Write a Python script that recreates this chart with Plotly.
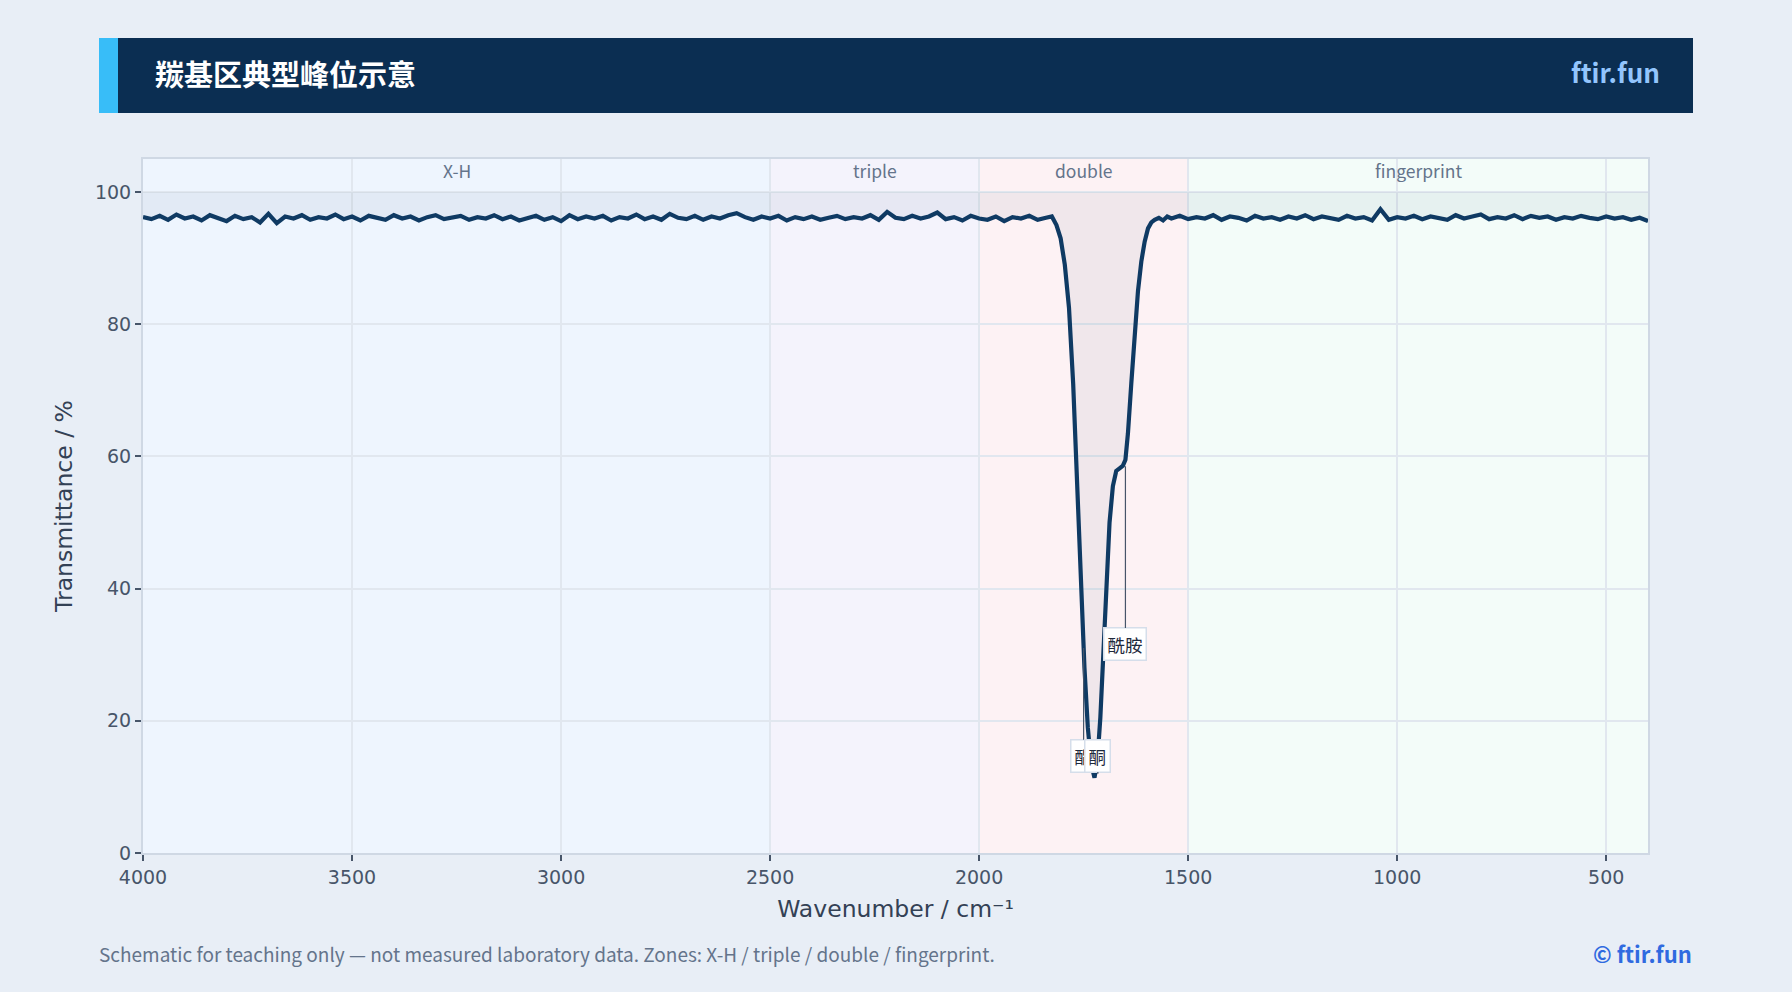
import plotly.graph_objects as go

# ---------------- data ----------------
wavenumber = [
    4000, 3980, 3960, 3940, 3920, 3900, 3880, 3860, 3840, 3820,
    3800, 3780, 3760, 3740, 3720, 3700, 3680, 3660, 3640, 3620,
    3600, 3580, 3560, 3540, 3520, 3500, 3480, 3460, 3440, 3420,
    3400, 3380, 3360, 3340, 3320, 3300, 3280, 3260, 3240, 3220,
    3200, 3180, 3160, 3140, 3120, 3100, 3080, 3060, 3040, 3020,
    3000, 2980, 2960, 2940, 2920, 2900, 2880, 2860, 2840, 2820,
    2800, 2780, 2760, 2740, 2720, 2700, 2680, 2660, 2640, 2620,
    2600, 2580, 2560, 2540, 2520, 2500, 2480, 2460, 2440, 2420,
    2400, 2380, 2360, 2340, 2320, 2300, 2280, 2260, 2240, 2220,
    2200, 2180, 2160, 2140, 2120, 2100, 2080, 2060, 2040, 2020,
    2000, 1980, 1960, 1940, 1920, 1900, 1880, 1860, 1840, 1826,
    1815, 1805, 1795, 1785, 1775, 1765, 1755, 1748, 1740, 1732,
    1724, 1717, 1710, 1703, 1695, 1688, 1680, 1672, 1664, 1656,
    1650, 1644, 1636, 1628, 1620, 1612, 1604, 1596, 1588, 1580,
    1570, 1560, 1550, 1540, 1520, 1500, 1480, 1460, 1440, 1420,
    1400, 1380, 1360, 1340, 1320, 1300, 1280, 1260, 1240, 1220,
    1200, 1180, 1160, 1140, 1120, 1100, 1080, 1060, 1040, 1020,
    1000, 980, 960, 940, 920, 900, 880, 860, 840, 820,
    800, 780, 760, 740, 720, 700, 680, 660, 640, 620,
    600, 580, 560, 540, 520, 500, 480, 460, 440, 420,
    400,
]
transmittance = [
    96.2, 95.9, 96.4, 95.8, 96.6, 96.0, 96.3, 95.7, 96.5, 96.1,
    95.6, 96.4, 95.9, 96.2, 95.4, 96.7, 95.3, 96.3, 96.0, 96.5,
    95.8, 96.2, 96.0, 96.6, 95.9, 96.3, 95.7, 96.4, 96.1, 95.8,
    96.5, 96.0, 96.3, 95.7, 96.2, 96.5, 95.9, 96.1, 96.4, 95.8,
    96.2, 96.0, 96.5, 95.9, 96.3, 95.7, 96.1, 96.4, 95.8, 96.2,
    95.6, 96.5, 95.9, 96.3, 96.0, 96.4, 95.7, 96.2, 96.0, 96.6,
    95.9, 96.3, 95.8, 96.7, 96.1, 95.9, 96.4, 95.8, 96.3, 96.0,
    96.5, 96.8, 96.2, 95.8, 96.3, 96.0, 96.4, 95.7, 96.2, 95.9,
    96.3, 95.8, 96.1, 96.4, 95.9, 96.2, 96.0, 96.5, 95.8, 97.0,
    96.1, 95.9, 96.4, 96.0, 96.3, 96.9, 95.9, 96.2, 95.7, 96.4,
    96.0, 95.8, 96.3, 95.6, 96.2, 96.0, 96.4, 95.8, 96.1, 96.3,
    95.0, 93.0, 89.0, 82.5, 71.0, 55.0, 38.0, 28.0, 19.0, 13.5,
    11.4, 14.0, 20.5, 31.0, 42.0, 50.0, 55.5, 57.8, 58.2, 58.6,
    59.5, 63.5, 71.0, 79.0, 85.0, 89.5, 92.5, 94.5, 95.4, 95.8,
    96.1, 95.7, 96.3, 96.0, 96.4, 95.9, 96.2, 96.0, 96.5, 95.8,
    96.3, 96.1, 95.7, 96.4, 96.0, 96.2, 95.8, 96.3, 96.0, 96.5,
    95.9, 96.3, 96.1, 95.8, 96.4, 96.0, 96.2, 95.7, 97.4, 95.8,
    96.2, 96.0, 96.4, 95.9, 96.3, 96.1, 95.8, 96.5, 96.0, 96.3,
    96.6, 95.9, 96.2, 96.0, 96.5, 95.9, 96.4, 96.1, 96.3, 95.8,
    96.2, 96.0, 96.4, 96.1, 95.9, 96.3, 96.0, 96.2, 95.8, 96.1,
    95.6,
]

zone_names = ["X-H", "triple", "double", "fingerprint"]
zone_start = [4000, 2500, 2000, 1500]
zone_end = [2500, 2000, 1500, 400]
zone_colors = ["#eef5fe", "#f4f3fc", "#fdf2f4", "#f3fcf9"]

peak_labels = ["酯", "酮", "酰胺"]
peak_wn = [1750, 1716, 1650]
peak_T = [31.0, 12.0, 58.5]
peak_offset_px = [108, -18, 178]

x_ticks = [4000, 3500, 3000, 2500, 2000, 1500, 1000, 500]
y_ticks = [0, 20, 40, 60, 80, 100]

title_text = "羰基区典型峰位示意"
brand_text = "ftir.fun"
footer_text = "Schematic for teaching only — not measured laboratory data. Zones: X-H / triple / double / fingerprint."
copyright_text = "© ftir.fun"

# ---------------- layout helpers ----------------
W, H = 1792, 992
ML, MR, MT, MB = 143, 144, 159, 139
PW, PH = W - ML - MR, H - MT - MB


def px2x(px):
    return (px - ML) / PW


def py2y(py):
    return (H - MB - py) / PH


CJK = "Noto Sans CJK SC"
TICKFONT = "DejaVu Sans"

fig = go.Figure()

# reference line at 100 for fill
fig.add_trace(go.Scatter(
    x=wavenumber, y=[100] * len(wavenumber), mode="lines",
    line=dict(width=0, color="rgba(0,0,0,0)"), hoverinfo="skip", showlegend=False,
))
fig.add_trace(go.Scatter(
    x=wavenumber, y=transmittance, mode="lines",
    line=dict(color="#0f3a63", width=4.2),
    fill="tonexty", fillcolor="rgba(30,60,100,0.06)",
    showlegend=False,
))

shapes = []
for xs, xe, c in zip(zone_start, zone_end, zone_colors):
    shapes.append(dict(type="rect", xref="x", yref="paper", x0=xs, x1=xe, y0=0, y1=1,
                       fillcolor=c, line=dict(width=0), layer="below"))

# header banner
shapes.append(dict(type="rect", xref="paper", yref="paper",
                   x0=px2x(99), x1=px2x(1693), y0=py2y(113), y1=py2y(38),
                   fillcolor="#0b2e52", line=dict(width=0), layer="above"))
shapes.append(dict(type="rect", xref="paper", yref="paper",
                   x0=px2x(99), x1=px2x(118), y0=py2y(113), y1=py2y(38),
                   fillcolor="#38bdf8", line=dict(width=0), layer="above"))

annotations = []
for name, xs, xe in zip(zone_names, zone_start, zone_end):
    annotations.append(dict(x=(xs + xe) / 2, y=py2y(171), xref="x", yref="paper",
                            text=name, showarrow=False, yanchor="middle",
                            font=dict(family=CJK, size=17.5, color="#64748b")))

for lab, wn, t, off in zip(peak_labels, peak_wn, peak_T, peak_offset_px):
    annotations.append(dict(x=wn, y=t, xref="x", yref="y", text=lab,
                            showarrow=True, arrowhead=0, arrowwidth=1.2, arrowcolor="#475569",
                            ax=0, ay=off, bgcolor="white", bordercolor="#d5deea",
                            borderwidth=1.5, borderpad=3,
                            font=dict(family=CJK, size=17.5, color="#1e293b")))

annotations.append(dict(x=px2x(153), y=py2y(73), xref="paper", yref="paper",
                        text="<b>" + title_text + "</b>", showarrow=False,
                        xanchor="left", yanchor="middle",
                        font=dict(family=CJK, size=29, color="white")))
annotations.append(dict(x=px2x(1662), y=py2y(72), xref="paper", yref="paper",
                        text="<b>" + brand_text + "</b>", showarrow=False,
                        xanchor="right", yanchor="middle",
                        font=dict(family=CJK, size=26, color="#93c5fd")))
annotations.append(dict(x=px2x(97), y=py2y(953), xref="paper", yref="paper",
                        text=footer_text, showarrow=False,
                        xanchor="left", yanchor="middle",
                        font=dict(family=CJK, size=19, color="#64748b")))
annotations.append(dict(x=px2x(1694), y=py2y(953), xref="paper", yref="paper",
                        text="<b>" + copyright_text + "</b>", showarrow=False,
                        xanchor="right", yanchor="middle",
                        font=dict(family=CJK, size=22, color="#2f6ae0")))

fig.update_layout(
    width=W, height=H,
    margin=dict(l=ML, r=MR, t=MT, b=MB),
    paper_bgcolor="#e8eef6",
    plot_bgcolor="#eef5fe",
    shapes=shapes,
    annotations=annotations,
    showlegend=False,
    xaxis=dict(
        range=[4000, 400], tickvals=x_ticks,
        showgrid=True, gridcolor="#e1e7ef", gridwidth=1.5,
        showline=True, linecolor="#cfd8e4", linewidth=2, mirror=True,
        ticks="outside", ticklen=6, tickcolor="#475569", tickwidth=1.5,
        tickfont=dict(family=TICKFONT, size=19, color="#475569"),
        title=dict(text="Wavenumber / cm⁻¹", font=dict(family=TICKFONT, size=23.5, color="#334155"),
                   standoff=14),
        zeroline=False,
    ),
    yaxis=dict(
        range=[0, 105], tickvals=y_ticks,
        showgrid=True, gridcolor="#e1e7ef", gridwidth=1.5,
        showline=True, linecolor="#cfd8e4", linewidth=2, mirror=True,
        ticks="outside", ticklen=6, tickcolor="#475569", tickwidth=1.5,
        tickfont=dict(family=TICKFONT, size=19, color="#475569"),
        title=dict(text="Transmittance / %", font=dict(family=TICKFONT, size=23.5, color="#334155"),
                   standoff=16),
        zeroline=False,
    ),
)

fig.write_html("out.html")
